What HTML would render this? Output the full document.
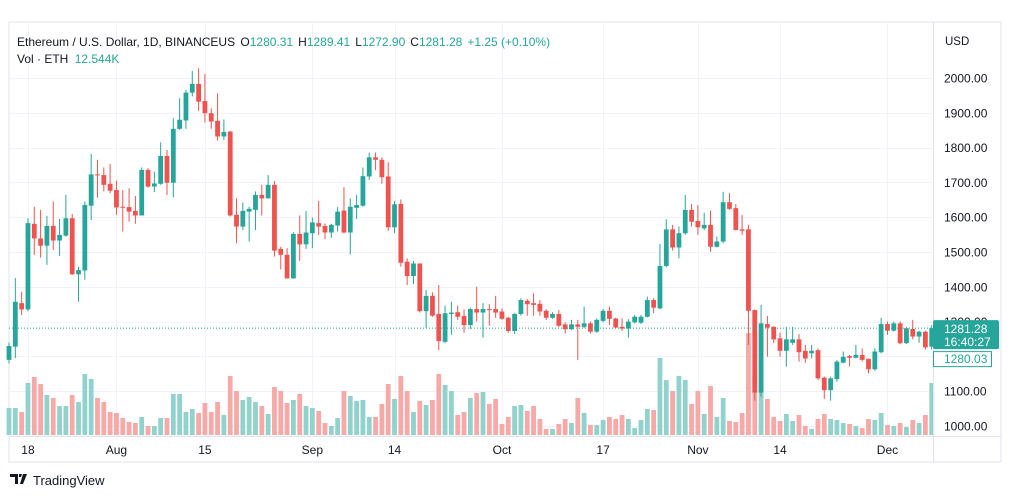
<!DOCTYPE html>
<html><head><meta charset="utf-8">
<style>
body{margin:0;background:#fff;width:1012px;height:498px;overflow:hidden;font-family:"Liberation Sans",sans-serif;}
svg{position:absolute;left:0;top:0}
</style></head>
<body>
<svg id="chart" width="1012" height="498" xmlns="http://www.w3.org/2000/svg">
<rect x="9" y="22" width="992" height="440" fill="#fff" stroke="#e0e3eb"/>
<g id="grid"></g>
<g id="vols"></g>
<g id="candles"></g>
<line x1="933.5" y1="22" x2="933.5" y2="462" stroke="#e0e3eb"/>
<line x1="9" y1="436.5" x2="1001" y2="436.5" stroke="#e0e3eb"/>
<g id="yaxis"></g>
<g id="xaxis"></g>
<text x="945" y="45" font-size="11.5" fill="#131722">USD</text>
<text x="17" y="46" font-size="12" fill="#131722">Ethereum / U.S. Dollar, 1D, BINANCEUS <tspan dx="2">O</tspan><tspan fill="#26a69a">1280.31</tspan><tspan dx="5">H</tspan><tspan fill="#26a69a">1289.41</tspan><tspan dx="5">L</tspan><tspan fill="#26a69a">1272.90</tspan><tspan dx="5">C</tspan><tspan fill="#26a69a">1281.28</tspan><tspan dx="5" fill="#26a69a">+1.25 (+0.10%)</tspan></text>
<text x="17" y="63" font-size="12" fill="#131722">Vol · ETH <tspan dx="3" fill="#26a69a">12.544K</tspan></text>
<g>
<path d="M10 474h8v10h-3v-7h-5z M19 474h3l-1 3h-2z M23 474h4l-4 10h-3z" fill="#131722"/>
<text x="33" y="485" font-size="13" fill="#131722">TradingView</text>
</g>
</svg>
<script>
const opens=[1190,1228,1353,1335,1581,1539,1518,1575,1533,1547,1597,1436,1447,1633,1723,1721,1696,1678,1630,1629,1618,1605,1736,1688,1696,1776,1699,1854,1878,1958,1983,1934,1899,1877,1832,1846,1607,1573,1616,1621,1664,1654,1693,1509,1492,1424,1552,1522,1554,1583,
1575,1556,1576,1619,1556,1627,1633,1717,1772,1765,1717,1571,1638,1472,1431,1467,1330,1374,1322,1242,1322,1327,1316,1290,1336,1326,1336,1336,1329,1311,1273,1322,1360,1353,1351,1331,1311,1322,1292,1278,1292,1285,1295,1271,1302,1331,1309,1285,1280,1298,
1297,1314,1362,1338,1460,1565,1513,1554,1621,1589,1568,1578,1515,1530,1643,1626,1565,1565,1333,1096,1293,1285,1252,1216,1239,1249,1216,1209,1218,1139,1103,1135,1182,1201,1196,1204,1193,1163,1212,1293,1274,1295,1238,1279,1257,1271,1228];
const highs=[1240,1425,1386,1597,1630,1621,1604,1645,1595,1664,1609,1458,1645,1782,1765,1743,1753,1705,1678,1683,1661,1743,1741,1731,1815,1793,1884,1942,1966,2020,2028,2012,1913,1956,1881,1848,1654,1642,1630,1674,1693,1721,1704,1515,1511,1557,1605,1618,1599,1647,
1582,1581,1629,1686,1654,1664,1743,1786,1786,1772,1758,1647,1651,1482,1474,1467,1391,1384,1405,1346,1357,1346,1335,1340,1400,1353,1350,1374,1338,1314,1324,1367,1365,1381,1362,1336,1327,1333,1298,1305,1305,1343,1300,1309,1336,1343,1311,1309,1307,1319,
1319,1372,1367,1523,1594,1578,1573,1664,1638,1635,1613,1619,1544,1673,1669,1638,1606,1578,1335,1348,1316,1287,1268,1285,1285,1264,1233,1233,1223,1142,1142,1190,1214,1204,1233,1223,1194,1223,1311,1300,1300,1300,1285,1305,1274,1274,1290];
const lows=[1180,1195,1319,1330,1492,1484,1463,1506,1489,1544,1434,1357,1420,1592,1656,1674,1669,1607,1559,1587,1581,1605,1685,1672,1693,1664,1657,1851,1854,1947,1906,1872,1854,1820,1822,1602,1525,1563,1530,1563,1605,1654,1487,1450,1424,1424,1474,1509,1511,1549,
1537,1541,1559,1554,1493,1595,1630,1707,1735,1696,1561,1554,1458,1405,1408,1326,1281,1314,1218,1238,1262,1305,1268,1279,1300,1254,1288,1311,1305,1268,1264,1317,1317,1317,1317,1305,1308,1284,1266,1276,1190,1281,1266,1268,1298,1290,1281,1273,1254,1295,
1293,1312,1324,1335,1456,1504,1482,1549,1573,1549,1563,1501,1513,1525,1621,1563,1549,1233,1073,1084,1199,1238,1199,1171,1233,1185,1182,1194,1132,1078,1073,1127,1180,1171,1194,1185,1151,1159,1209,1262,1271,1235,1236,1249,1239,1220,1220];
const closes=[1230,1357,1335,1583,1539,1518,1575,1533,1549,1597,1436,1448,1635,1723,1720,1693,1676,1628,1628,1616,1605,1736,1688,1697,1776,1699,1854,1880,1958,1983,1932,1899,1875,1832,1845,1605,1573,1618,1624,1664,1654,1693,1504,1492,1424,1552,1522,1556,1585,1573,
1556,1578,1616,1556,1630,1635,1718,1772,1765,1715,1571,1637,1469,1431,1467,1330,1374,1317,1244,1324,1326,1314,1290,1336,1326,1336,1333,1326,1308,1273,1322,1362,1350,1348,1329,1311,1322,1288,1278,1292,1285,1295,1271,1305,1331,1308,1283,1280,1300,1314,
1314,1362,1340,1460,1565,1513,1554,1621,1587,1571,1578,1515,1530,1643,1624,1563,1561,1331,1096,1295,1283,1249,1216,1249,1249,1212,1194,1216,1137,1103,1137,1185,1199,1196,1204,1190,1163,1214,1293,1274,1295,1238,1281,1257,1271,1226,1281];
const volumes=[27,27,23,52,58,51,40,37,29,29,40,33,61,56,37,33,23,22,17,13,12,18,9,9,17,17,41,41,23,26,22,32,23,33,20,59,44,35,38,33,29,21,48,44,32,35,41,29,27,24,
12,9,17,44,39,34,35,18,18,31,51,36,59,44,23,34,30,35,61,50,44,20,23,37,42,43,31,36,11,18,29,30,24,29,16,6,6,11,16,12,37,22,10,10,15,18,16,20,16,7,
15,26,25,77,55,44,59,55,31,44,21,49,18,37,14,13,22,102,60,43,36,18,14,21,14,20,9,6,16,21,16,15,12,11,9,7,16,15,22,10,9,12,8,15,12,20,52];
const priceTicks=[2000,1900,1800,1700,1600,1500,1400,1300,1200,1100,1000];
const timeLabels=["18","Aug","15","Sep","14","Oct","17","Nov","14","Dec"];
const timeLabelIdx=[3,17,31,48,61,78,94,109,122,139];
const lastPrice=1281.28, prevClose=1280.03;

const NS="http://www.w3.org/2000/svg";
const X=i=>9+i*6.32;
const Y=p=>426-(p-1000)*0.348;
const VY=v=>435-v*1.0;
function mk(tag,attrs,parent){const e=document.createElementNS(NS,tag);for(const k in attrs)e.setAttribute(k,attrs[k]);parent.appendChild(e);return e;}
const grid=document.getElementById('grid'),yax=document.getElementById('yaxis'),xax=document.getElementById('xaxis');
priceTicks.forEach(p=>{
  const l=mk('line',{x1:9,x2:933,y1:Math.round(Y(p))+0.5,y2:Math.round(Y(p))+0.5,stroke:'#f0f3fa'},grid);
  
  
  const t=mk('text',{x:944,y:Y(p)+4.5,'font-size':'12',fill:'#131722'},yax);
  t.textContent=p.toFixed(2);
  
  
});
timeLabels.forEach((s,k)=>{
  const x=X(timeLabelIdx[k]);
  const l=mk('line',{x1:Math.round(x)+0.5,x2:Math.round(x)+0.5,y1:22,y2:436,stroke:'#f0f3fa'},grid);
  
  
  const t=mk('text',{x:x,y:454,'font-size':'12',fill:'#131722','text-anchor':'middle'},xax);
  t.textContent=s;
  
  
});
const vg=document.getElementById('vols'),cg=document.getElementById('candles');
for(let i=0;i<opens.length;i++){
  const up=closes[i]>=opens[i];
  const x=X(i);
  const vb=mk('rect',{x:x-2.4,y:VY(volumes[i]),width:4.8,height:435-VY(volumes[i]),fill:up?'#92d2cc':'#f7a9a7'},vg);
  
  
  const col=up?'#26a69a':'#ef5350';
  const w=mk('line',{x1:x,x2:x,y1:Y(highs[i]),y2:Y(lows[i]),stroke:col,'stroke-width':1},cg);
  
  
  const top=Y(Math.max(opens[i],closes[i])),bot=Y(Math.min(opens[i],closes[i]));
  const b=mk('rect',{x:x-2.4,y:top,width:4.8,height:Math.max(1,bot-top),fill:col},cg);
  
  
}
const svg=document.getElementById('chart');
const py=Y(lastPrice);
const dl=mk('line',{x1:9,x2:933,y1:py,y2:py,stroke:'#26a69a','stroke-dasharray':'1 2'},svg);


const bx=mk('rect',{x:933,y:py-8,width:66,height:29,fill:'#26a69a',rx:2},svg);


const t1=mk('text',{x:944,y:py+5,'font-size':'12',fill:'#fff'},svg);t1.textContent=lastPrice.toFixed(2);


const t2=mk('text',{x:944,y:py+18,'font-size':'12',fill:'#fff'},svg);t2.textContent='16:40:27';


const pb=mk('rect',{x:933.5,y:py+23.5,width:58,height:15,fill:'#fff',stroke:'#26a69a'},svg);


const t3=mk('text',{x:944,y:py+35,'font-size':'12',fill:'#26a69a'},svg);t3.textContent=prevClose.toFixed(2);


</script>
</body></html>
